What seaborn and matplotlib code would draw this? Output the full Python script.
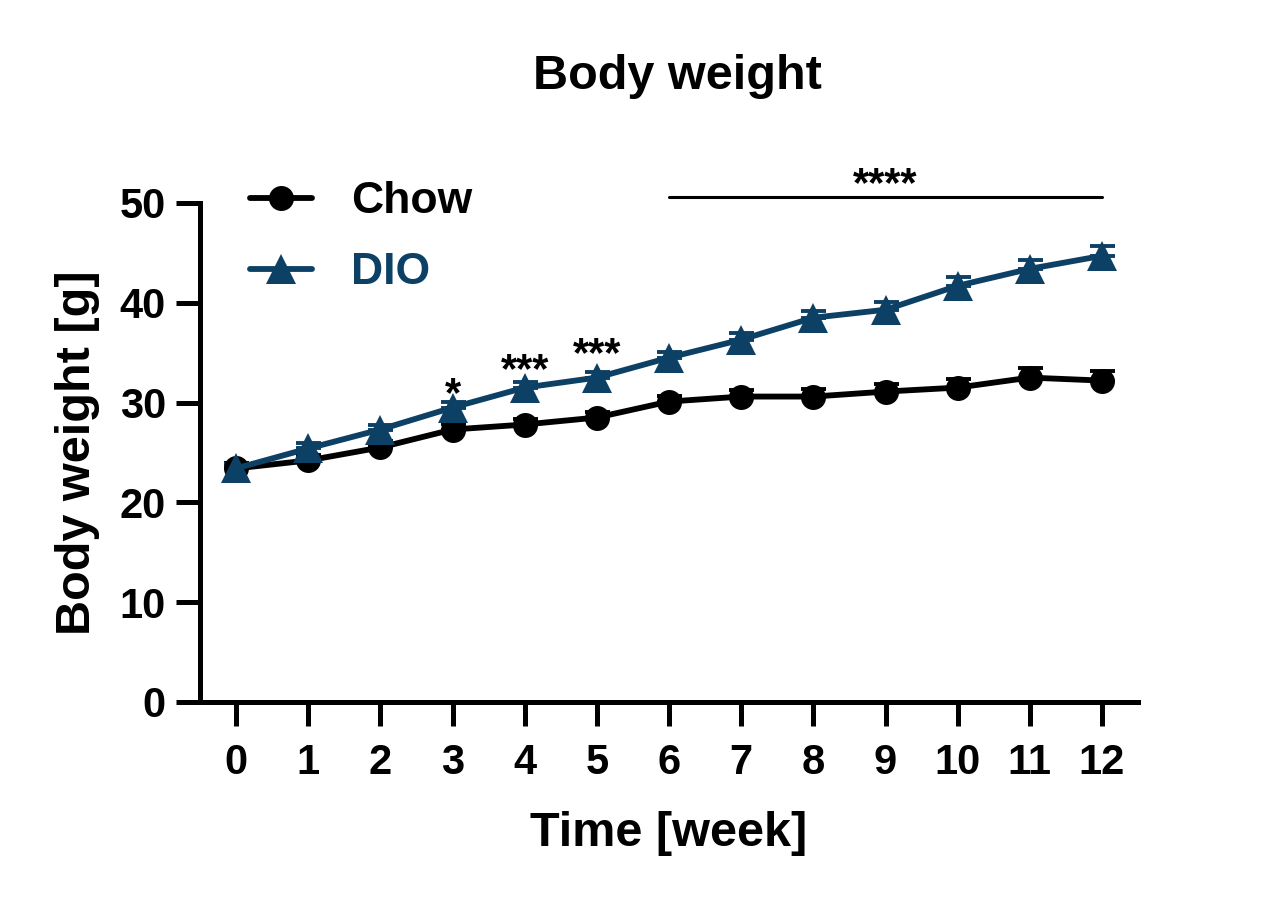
import matplotlib
matplotlib.use("Agg")
import matplotlib.pyplot as plt
from matplotlib.lines import Line2D
import seaborn as sns
import pandas as pd
import numpy as np

weeks = [0, 1, 2, 3, 4, 5, 6, 7, 8, 9, 10, 11, 12]
chow_mean = [23.4, 24.2, 25.5, 27.3, 27.8, 28.5, 30.1, 30.6, 30.6, 31.1, 31.5, 32.5, 32.2]
chow_sem = [0.5, 0.5, 0.6, 0.6, 0.6, 0.6, 0.6, 0.7, 0.8, 0.8, 0.9, 1.0, 1.0]
dio_mean = [23.4, 25.4, 27.3, 29.5, 31.5, 32.5, 34.5, 36.3, 38.5, 39.3, 41.7, 43.4, 44.7]
dio_sem = [0.4, 0.5, 0.5, 0.6, 0.6, 0.6, 0.6, 0.7, 0.7, 0.8, 0.9, 0.9, 1.0]

# significance marks: (week, label, baseline y)
sig_single = [(3, "*", 29.6), (4, "***", 32.1), (5, "***", 33.7)]
sig_range = (6, 12, 50.6, "****")

blue = "#0D4065"
colors = {"Chow": "black", "DIO": blue}
markers = {"Chow": "o", "DIO": "^"}

sns.set_theme(style="ticks")
plt.rcParams['font.family'] = ['Liberation Sans', 'DejaVu Sans']
plt.rcParams['font.weight'] = 'bold'
plt.rcParams['axes.labelweight'] = 'bold'
plt.rcParams['axes.titleweight'] = 'bold'
plt.rcParams['text.color'] = 'black'
plt.rcParams['axes.labelcolor'] = 'black'
plt.rcParams['xtick.color'] = 'black'
plt.rcParams['ytick.color'] = 'black'

df = pd.DataFrame({
    "week": weeks * 2,
    "weight": chow_mean + dio_mean,
    "group": ["Chow"] * len(weeks) + ["DIO"] * len(weeks),
})

fig = plt.figure(figsize=(12.78, 9.06), dpi=100)
ax = fig.add_axes([0.1565, 0.2252, 0.734, 0.5508])

# error bars (upper only)
for name, mean, sem in [("Chow", chow_mean, chow_sem), ("DIO", dio_mean, dio_sem)]:
    ax.errorbar(weeks, mean, yerr=[np.zeros(len(sem)), sem], fmt="none",
                ecolor=colors[name], elinewidth=2.8, capsize=9, capthick=2.8, zorder=2)

sns.lineplot(data=df, x="week", y="weight", hue="group", style="group",
             palette=colors, markers=markers, dashes=False, linewidth=4.2,
             markersize=18, markeredgewidth=0, ax=ax, legend=False, zorder=3)
# triangles look smaller than circles at the same size
for line in ax.get_lines():
    if line.get_marker() == "^":
        line.set_markersize(21)

ax.set_xlim(-0.5, 12.5)
ax.set_ylim(0, 50)
ax.set_xticks(weeks)
ax.set_yticks([0, 10, 20, 30, 40, 50])
ax.tick_params(axis="both", labelsize=30, width=3.6, length=17.5, color="black", labelcolor="black")
ax.tick_params(axis="x", pad=12)
ax.tick_params(axis="y", pad=7)
for lab in ax.get_xticklabels() + ax.get_yticklabels():
    lab.set_fontweight("bold")
sns.despine(ax=ax)
for side in ["left", "bottom"]:
    ax.spines[side].set_linewidth(3.6)
    ax.spines[side].set_color("black")
    ax.spines[side].set_capstyle("projecting")

ax.set_xlabel("Time [week]", fontsize=35, fontweight="bold", labelpad=20, color="black")
ax.set_ylabel("Body weight [g]", fontsize=35, fontweight="bold", labelpad=14, color="black")
fig.text(0.53, 0.916, "Body weight", fontsize=35, fontweight="bold", ha="center", va="center",
         color="black")

for wk, lab, yb in sig_single:
    ax.text(wk, yb, lab, fontsize=30, fontweight="bold", ha="center", va="baseline", color="black")
x0, x1, ysig, lab = sig_range
ax.plot([x0, x1], [ysig, ysig], color="black", linewidth=2.2, clip_on=False)
ax.text((x0 + x1) / 2, ysig + 0.1, lab, fontsize=30, fontweight="bold",
        ha="center", va="baseline", clip_on=False, color="black")

handles = [Line2D([0], [0], color=colors[g], marker=markers[g],
                  markersize=18 if g == "Chow" else 21,
                  linewidth=4.2, markeredgewidth=0) for g in ["Chow", "DIO"]]
leg = fig.legend(handles, ["Chow", "DIO"], loc="upper left", bbox_to_anchor=(0.1956, 0.80),
                 frameon=False, handlelength=1.4, handletextpad=0.88,
                 labelspacing=0.68, borderpad=0, borderaxespad=0,
                 prop={"weight": "bold", "size": 32}, labelcolor=[colors["Chow"], colors["DIO"]])

fig.savefig("out.png", dpi=100)
